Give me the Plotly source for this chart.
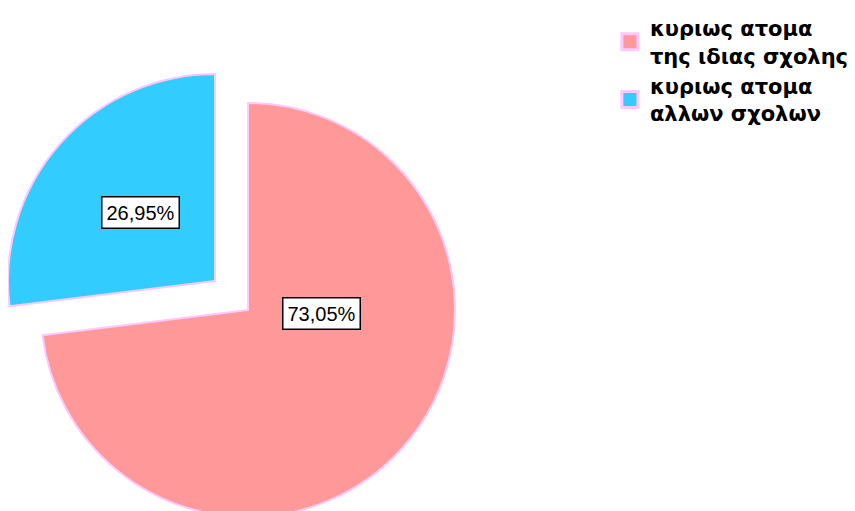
import plotly.graph_objects as go

# ---- data ----
labels = ["κυριως ατομα<br>της ιδιας σχολης", "κυριως ατομα<br>αλλων σχολων"]
values = [73.05, 26.95]
pct_text = ["73,05%", "26,95%"]
colors = ["#FF9999", "#33CCFF"]
edge_color = "#FFC8FF"

# ---- layout geometry (figure pixels) ----
W, H = 855, 511
R = 207
main_center = (240, 302)      # un-pulled slice
pulled_center = (207, 273)    # exploded slice
label_pos = [(313, 305), (132, 204)]


def domain(cx, cy, r):
    return dict(x=[max(0, (cx - r) / W), (cx + r) / W],
                y=[max(0, 1 - (cy + r) / H), min(1, 1 - (cy - r) / H)])


fig = go.Figure()
clear = "rgba(0,0,0,0)"

# main (non-exploded) slice
fig.add_trace(go.Pie(
    values=values, labels=labels, sort=False, direction="clockwise", rotation=0,
    domain=domain(*main_center, R),
    marker=dict(colors=[colors[0], clear], line=dict(color=[edge_color, clear], width=2)),
    textinfo="none", hoverinfo="skip", showlegend=False,
))
# exploded slice
fig.add_trace(go.Pie(
    values=values, labels=labels, sort=False, direction="clockwise", rotation=0,
    domain=domain(*pulled_center, R),
    marker=dict(colors=[clear, colors[1]], line=dict(color=[clear, edge_color], width=2)),
    textinfo="none", hoverinfo="skip", showlegend=False,
))

# legend entries
for lab, col in zip(labels, colors):
    fig.add_trace(go.Scatter(
        x=[None], y=[None], mode="markers", name="<b>" + lab + "</b>",
        marker=dict(symbol="square", size=16, color=col, line=dict(color=edge_color, width=3)),
    ))

# percentage boxes
for (px, py), txt in zip(label_pos, pct_text):
    fig.add_annotation(
        x=px / W, y=1 - py / H, xref="paper", yref="paper", text=txt,
        showarrow=False, xanchor="center", yanchor="middle",
        font=dict(family="Liberation Sans, Arial", size=20, color="black"),
        bgcolor="white", bordercolor="black", borderwidth=1.5, borderpad=2,
        width=72, height=26,
    )

fig.update_layout(
    width=W, height=H,
    margin=dict(l=0, r=0, t=0, b=0),
    paper_bgcolor="white", plot_bgcolor="white",
    xaxis=dict(visible=False), yaxis=dict(visible=False),
    showlegend=True,
    legend=dict(x=0.704, y=1.0, xanchor="left", yanchor="top",
                font=dict(family="DejaVu Sans", size=21, color="black"),
                bgcolor=clear, itemsizing="trace", tracegroupgap=0),
)

fig.write_html("out.html")
